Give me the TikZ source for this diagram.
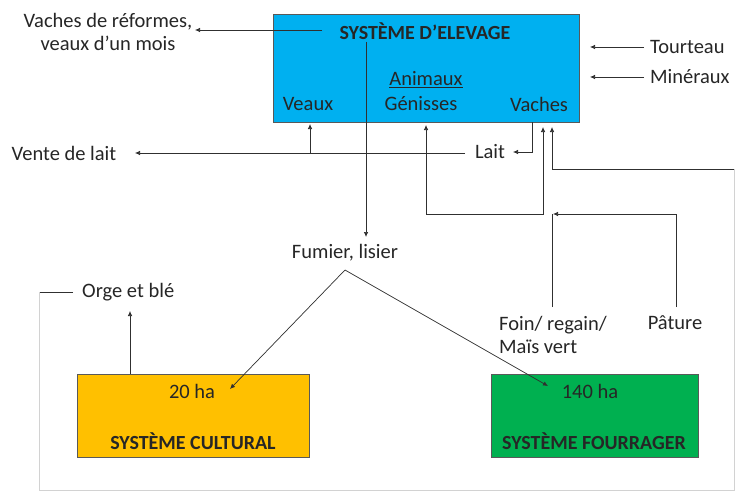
\documentclass[tikz,border=0pt]{standalone}
\usepackage{fontspec}
\setmainfont{Carlito}
\usetikzlibrary{arrows.meta}
\definecolor{elevblue}{HTML}{00B0F0}
\definecolor{cultorange}{HTML}{FFC000}
\definecolor{fourgreen}{HTML}{00B050}
\definecolor{lineclr}{HTML}{303030}
\tikzset{
  sysbox/.style={draw=lineclr!80, line width=0.8pt, inner sep=0pt},
  lbl/.style={inner sep=0pt, font=\fontsize{20.5}{23.5}\selectfont, text=black!85},
  blbl/.style={inner sep=0pt, font=\fontsize{20}{23}\selectfont\bfseries, text=black!85},
  conn/.style={draw=lineclr, line width=0.7pt},
  arr/.style={conn, -{Latex[length=5pt,width=4.5pt]}},
  edgeline/.style={draw=gray!35, line width=0.8pt},
}
\begin{document}
\begin{tikzpicture}[x=1pt,y=-1pt]
\useasboundingbox (0,0) rectangle (735,492);
% boxes
\node[sysbox, fill=elevblue, minimum width=306pt, minimum height=108pt] (elev) at (426,68) {};
\node[sysbox, fill=cultorange, minimum width=232pt, minimum height=83pt] (cult) at (193,415.5) {};
\node[sysbox, fill=fourgreen, minimum width=207pt, minimum height=83pt] (four) at (594.5,415.5) {};
% texts in boxes
\node[blbl] (title) at (425,31) {SYSTÈME D’ELEVAGE};
\node[lbl] (animaux) at (426,80) {\underline{Animaux}};
\node[lbl] (veaux) at (308,104) {Veaux};
\node[lbl] (genisses) at (421,104) {Génisses};
\node[lbl] (vaches) at (539,104) {Vaches};
\node[lbl] (ha20) at (192,391) {20 ha};
\node[blbl] (sysc) at (193,441) {SYSTÈME CULTURAL};
\node[lbl] (ha140) at (590,391) {140 ha};
\node[blbl] (sysf) at (594,441) {SYSTÈME FOURRAGER};
% outside texts
\node[lbl, align=center] (reformes) at (108,32) {Vaches de réformes,\\veaux d’un mois};
\node[lbl, anchor=west] (tourteau) at (650,47) {Tourteau};
\node[lbl, anchor=west] (mineraux) at (650,77) {Minéraux};
\node[lbl] (lait) at (490,152) {Lait};
\node[lbl] (vente) at (64,153) {Vente de lait};
\node[lbl] (fumier) at (345,253) {Fumier, lisier};
\node[lbl, anchor=west] (orge) at (82,292) {Orge et blé};
\node[lbl, anchor=west, align=left] (foin) at (499,335) {Foin/ regain/\\Maïs vert};
\node[lbl] (pature) at (675,323) {Pâture};
% coordinates
\coordinate (reformesIn) at (195,30);
\coordinate (titleOut) at (322,30);
\coordinate (fumStart) at (366,42);
\coordinate (fumEnd) at (366,237);
\coordinate (vachesOut) at (532,122);
\coordinate (laitCorner) at (532,152);
\coordinate (laitIn) at (513,152);
\coordinate (laitOut) at (465,153);
\coordinate (venteIn) at (135,153);
\coordinate (veauxBranch) at (310,153);
\coordinate (veauxIn) at (310,124);
\coordinate (genIn) at (426,125);
\coordinate (genCorner) at (426,214);
\coordinate (vachesCorner) at (543,214);
\coordinate (vachesIn) at (543,127);
\coordinate (foinTop) at (552,214);
\coordinate (foinOut) at (552,307);
\coordinate (patOut) at (676,307);
\coordinate (patCorner) at (676,214);
\coordinate (patIn) at (553,214);
\coordinate (orgeOut) at (73,292);
\coordinate (loopA) at (39,292);
\coordinate (loopB) at (39,490);
\coordinate (loopC) at (734,490);
\coordinate (loopD) at (734,169);
\coordinate (loopE) at (552,169);
\coordinate (loopIn) at (552,127);
\coordinate (cultOut) at (130,374);
\coordinate (orgeIn) at (130,311);
\coordinate (fumSplit) at (345,270);
\coordinate (cultIn) at (230,389);
\coordinate (fourIn) at (548,386);
\coordinate (tourOut) at (644,47);
\coordinate (tourIn) at (590,47);
\coordinate (minOut) at (644,77);
\coordinate (minIn) at (590,77);
% connectors
\draw[arr] (titleOut) -- (reformesIn);
\draw[arr] (tourOut) -- (tourIn);
\draw[arr] (minOut) -- (minIn);
\draw[arr] (fumStart) -- (fumEnd);
\draw[arr] (vachesOut) -- (laitCorner) -- (laitIn);
\draw[arr] (laitOut) -- (venteIn);
\draw[arr] (veauxBranch) -- (veauxIn);
\draw[conn, {Latex[length=5pt,width=4.5pt]}-{Latex[length=5pt,width=4.5pt]}] (genIn) -- (genCorner) -- (vachesCorner) -- (vachesIn);
\draw[conn] (foinOut) -- (foinTop);
\draw[arr] (patOut) -- (patCorner) -- (patIn);
\draw[conn] (orgeOut) -- (loopA);
\draw[edgeline] (loopA) -- (loopB) -- (loopC) -- (loopD);
\draw[arr] (loopD) -- (loopE) -- (loopIn);
\draw[arr] (cultOut) -- (orgeIn);
\draw[arr] (fumSplit) -- (cultIn);
\draw[arr] (fumSplit) -- (fourIn);
\end{tikzpicture}
\end{document}
